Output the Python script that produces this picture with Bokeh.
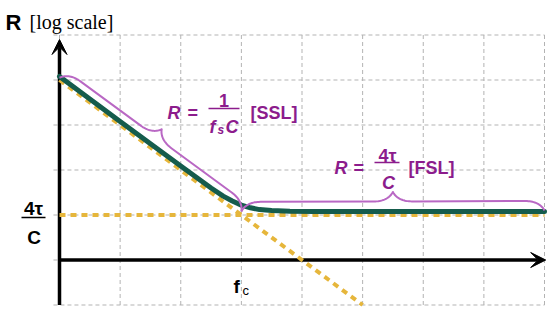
import numpy as np
from bokeh.plotting import figure
from bokeh.models import Range1d, Label, Arrow, VeeHead
from bokeh.embed import file_html
from bokeh.resources import INLINE

# ---------------- data (decades of log scale) ----------------
grid_x = [0, 1, 2, 3, 4, 5, 6, 7, 8]
grid_y = [-1, 0, 1, 2, 3, 4, 5]

ssl_x = [0, 5]          # R = 1/(f_s C) asymptote
ssl_y = [4, -1]
fsl_x = [0, 8]          # R = 4tau/C asymptote
fsl_y = [1, 1]

total_x = [0, 1, 2, 2.5, 2.7, 2.85, 3.0, 3.15, 3.3, 3.5, 3.8, 4.2, 5, 6, 7, 8]
total_y = [4.08, 3.08, 2.09, 1.60, 1.42, 1.31, 1.22, 1.16, 1.12, 1.10, 1.085, 1.08, 1.08, 1.08, 1.08, 1.08]

ssl_brace_x = [0, 3]
ssl_brace_y = [4.05, 1.08]
fsl_brace_x = [3, 8]
fsl_brace_y = [1.08, 1.10]

# ---------------- geometry ----------------
W, H = 550, 313
PAGE_OFF = 0.0
SX = 60.625            # px per x unit
SY = 45.0              # px per y unit
OX, OY = 59.0, 259.5   # page px of the origin
x0 = -(OX - PAGE_OFF) / SX
x1 = x0 + W / SX
y1 = (OY - PAGE_OFF) / SY
y0 = y1 - H / SY

def X(px):
    return (px - OX) / SX

def Y(py):
    return (OY - py) / SY

GOLD = "#e6b63b"
GREEN = "#155c4c"
LPURPLE = "#b968c4"
DPURPLE = "#8c1c8c"
SANS = "Liberation Sans"

p = figure(width=W, height=H, x_range=Range1d(x0, x1), y_range=Range1d(y0, y1),
           output_backend="svg", toolbar_location=None, min_border=0,
           x_axis_location=None, y_axis_location=None,
           outline_line_color=None, background_fill_color="white",
           border_fill_color="white")
p.grid.visible = False

# grid
r = p.segment(x0=grid_x, y0=[grid_y[0]] * len(grid_x), x1=grid_x, y1=[grid_y[-1]] * len(grid_x),
              line_color="#b3b3b3", line_width=1, line_dash="4 3")
r.level = "image"
r = p.segment(x0=[grid_x[0] - 0.1] * len(grid_y), y0=grid_y, x1=[grid_x[-1]] * len(grid_y), y1=grid_y,
              line_color="#b3b3b3", line_width=1, line_dash="4 3")
r.level = "image"

# axes
ax = Arrow(x_start=0, y_start=0, x_end=grid_x[-1] + 0.02, y_end=0, line_width=3.5, line_color="black",
           end=VeeHead(size=15, fill_color="black", line_color="black", line_width=1), level="underlay")
ay = Arrow(x_start=0, y_start=grid_y[0], x_end=0, y_end=grid_y[-1] - 0.1, line_width=3.5, line_color="black",
           end=VeeHead(size=15, fill_color="black", line_color="black", line_width=1), level="underlay")
p.add_layout(ax)
p.add_layout(ay)

# asymptotes
p.line(ssl_x, ssl_y, line_color=GOLD, line_width=4, line_dash="6 5")
p.line(fsl_x, fsl_y, line_color=GOLD, line_width=4, line_dash="6 5")

# total resistance
p.line(total_x, total_y, line_color=GREEN, line_width=5, line_join="round", line_cap="round")

# braces
def bez(p0, p1, p2, p3, n=20):
    t = np.linspace(0, 1, n)[:, None]
    p0, p1, p2, p3 = map(np.array, (p0, p1, p2, p3))
    return ((1 - t) ** 3) * p0 + 3 * ((1 - t) ** 2) * t * p1 + 3 * (1 - t) * t ** 2 * p2 + t ** 3 * p3

def brace(xs, ys, a=19.0):
    P0 = np.array([xs[0] * SX, ys[0] * SY])
    P1 = np.array([xs[1] * SX, ys[1] * SY])
    d = P1 - P0
    L = np.hypot(*d)
    u = d / L
    nv = np.array([-u[1], u[0]])
    m = L / 2
    segs = [
        bez((0, 0), (.15 * a, .3 * a), (.5 * a, .5 * a), (a, .5 * a)),
        bez((a, .5 * a), (a, .5 * a), (m - a, .5 * a), (m - a, .5 * a), 2),
        bez((m - a, .5 * a), (m - .5 * a, .5 * a), (m - .15 * a, .7 * a), (m, a)),
        bez((m, a), (m + .15 * a, .7 * a), (m + .5 * a, .5 * a), (m + a, .5 * a)),
        bez((m + a, .5 * a), (m + a, .5 * a), (L - a, .5 * a), (L - a, .5 * a), 2),
        bez((L - a, .5 * a), (L - .5 * a, .5 * a), (L - .15 * a, .3 * a), (L, 0)),
    ]
    loc = np.vstack(segs)
    pts = P0[None, :] + loc[:, :1] * u[None, :] + loc[:, 1:2] * nv[None, :]
    return pts[:, 0] / SX, pts[:, 1] / SY

bx, by = brace(ssl_brace_x, ssl_brace_y)
p.line(bx, by, line_color=LPURPLE, line_width=2, line_join="round")
bx, by = brace(fsl_brace_x, fsl_brace_y)
p.line(bx, by, line_color=LPURPLE, line_width=2, line_join="round")

# labels
def lab(text, px, py, size, color="black", style="bold", font=SANS, align="left"):
    p.add_layout(Label(x=X(px), y=Y(py), text=text, text_font=font, text_font_size=f"{size}px",
                       text_font_style=style, text_color=color, text_align=align,
                       text_baseline="alphabetic"))

def bar(pxa, pxb, py, color):
    p.segment(x0=[X(pxa)], y0=[Y(py)], x1=[X(pxb)], y1=[Y(py)], line_color=color, line_width=1.6)

# title
lab("R", 5, 21.5, 22)
lab("[log scale]", 29, 21, 20, style="normal", font="Liberation Serif")

# left tick label 4tau/C
lab("4τ", 33, 208, 19, align="center")
bar(21, 45, 217, "black")
lab("C", 33.5, 237, 19, align="center")

# f_c
lab("f", 233, 286, 19)
lab("c", 242, 289.5, 13, style="normal")

# SSL formula
lab("R", 167, 112, 18, DPURPLE, "bold italic")
lab("=", 187, 112, 18, DPURPLE)
lab("1", 223.5, 100, 18, DPURPLE, align="center")
bar(208, 239, 108, DPURPLE)
lab("f", 209, 126.5, 18, DPURPLE, "bold italic")
lab("s", 217, 129, 12, DPURPLE, "bold italic")
lab("C", 225, 126.5, 18, DPURPLE, "bold italic")
lab("[SSL]", 250, 112, 18, DPURPLE)

# FSL formula
lab("R", 334, 167, 18, DPURPLE, "bold italic")
lab("=", 353, 167, 18, DPURPLE)
lab("4τ", 387, 155, 18, DPURPLE, align="center")
bar(374, 399, 162, DPURPLE)
lab("C", 388, 182, 18, DPURPLE, "bold italic", align="center")
lab("[FSL]", 408, 167, 18, DPURPLE)

open("out.html", "w").write(file_html(p, INLINE))
